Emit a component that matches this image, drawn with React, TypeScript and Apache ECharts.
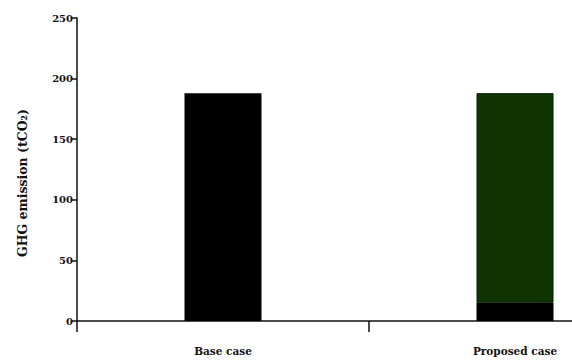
import React, { useEffect, useRef } from "react";
import * as echarts from "echarts";

const categories = ["Base case", "Proposed case"];
const blackPart = [188, 15];
const greenPart = [null, 173];
const yTicks = [0, 50, 100, 150, 200, 250];

const FONT = "DejaVu Serif";

export default function App() {
  const ref = useRef<HTMLDivElement>(null);
  useEffect(() => {
    const chart = echarts.init(ref.current!, null, { renderer: "svg" });
    chart.setOption({
      animation: false,
      backgroundColor: "#ffffff",
      grid: { left: 77, top: 18, bottom: 41, right: 19 },
      xAxis: {
        type: "category",
        data: categories,
        axisLine: { lineStyle: { color: "#111", width: 1.5 } },
        axisTick: { show: true, length: 11, lineStyle: { color: "#111", width: 1.5 } },
        axisLabel: {
          color: "#111",
          fontFamily: FONT,
          fontWeight: "bold",
          fontSize: 10.5,
          margin: 24,
        },
      },
      yAxis: {
        type: "value",
        min: yTicks[0],
        max: yTicks[yTicks.length - 1],
        interval: 50,
        splitLine: { show: false },
        axisLine: { show: true, lineStyle: { color: "#111", width: 1.5 } },
        axisTick: { show: true, length: 6, lineStyle: { color: "#111", width: 1.5 } },
        axisLabel: {
          color: "#111",
          fontFamily: FONT,
          fontWeight: "bold",
          fontSize: 10,
          margin: 4,
        },
      },
      graphic: [
        {
          type: "text",
          x: 22,
          y: 183,
          rotation: Math.PI / 2,
          style: {
            text: "GHG emission (tCO₂)",
            fontFamily: FONT,
            fontWeight: "bold",
            fontSize: 12.5,
            fill: "#111",
            align: "center",
            verticalAlign: "middle",
          },
        },
      ],
      series: [
        {
          type: "bar",
          stack: "total",
          data: blackPart,
          barWidth: 77,
          itemStyle: { color: "#000000" },
        },
        {
          type: "bar",
          stack: "total",
          data: greenPart,
          barWidth: 77,
          itemStyle: { color: "#0f3302", borderColor: "#0a1f02", borderWidth: 1 },
        },
      ],
    });
    return () => chart.dispose();
  }, []);
  return (
    <div style={{ width: 572, height: 362, overflow: "hidden", position: "absolute", left: 0, top: 0 }}>
      <div ref={ref} style={{ width: 680, height: 362 }} />
    </div>
  );
}
